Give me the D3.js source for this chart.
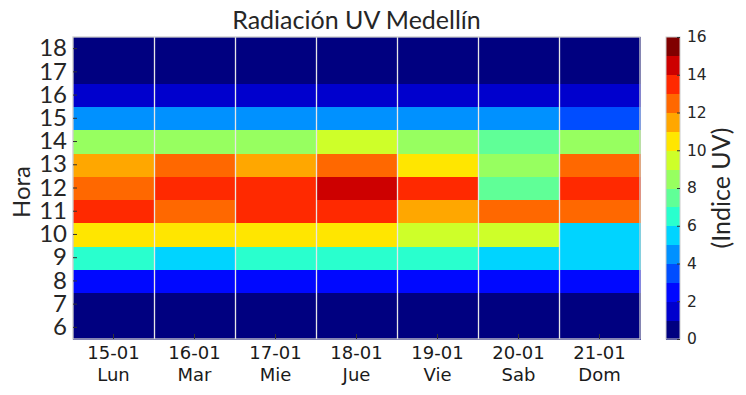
<!DOCTYPE html>
<html><head><meta charset="utf-8">
<script src="https://cdn.jsdelivr.net/npm/d3@7/dist/d3.min.js"></script>
<style>body{margin:0;background:#fff}</style>
</head><body>
<svg id="chart" width="746" height="395"></svg>
<script>
// ---- data ----
const days = ["15-01","16-01","17-01","18-01","19-01","20-01","21-01"];
const weekdays = ["Lun","Mar","Mie","Jue","Vie","Sab","Dom"];
const hours = [6,7,8,9,10,11,12,13,14,15,16,17,18];
// UV index per hour (rows, 6..18), columns Lun..Dom
const uvIndex = [
  [0.3,0.3,0.3,0.3,0.3,0.3,0.3],        // 6
  [0.4,0.4,0.4,0.4,0.4,0.4,0.4],        // 7
  [2.5,2.5,2.5,2.5,2.5,2.5,2.5],        // 8
  [6.5,5.5,6.5,6.5,6.5,5.5,5.5],        // 9
  [10.5,10.5,10.5,10.5,9.5,9.5,5.5],    // 10
  [13.5,12.5,13.5,13.5,11.5,12.5,12.5], // 11
  [12.5,13.5,13.5,14.5,13.5,7.5,13.5],  // 12
  [11.5,12.5,11.5,12.5,10.5,8.5,12.5],  // 13
  [8.5,8.5,8.5,9.5,8.5,7.5,8.5],        // 14
  [4.5,4.5,4.5,4.5,4.5,4.5,3.5],        // 15
  [1.5,1.5,1.5,1.5,1.5,1.5,1.5],        // 16
  [0.4,0.4,0.4,0.4,0.4,0.4,0.4],        // 17
  [0.2,0.2,0.2,0.2,0.2,0.2,0.2]         // 18
];
const cbTicks = [0,2,4,6,8,10,12,14,16];
const nLevels = 16;

// ---- jet colormap ----
function seg(pts, x){
  for(let i=1;i<pts.length;i++){
    if(x<=pts[i][0]){const [x0,y0]=pts[i-1],[x1,y1]=pts[i];return y0+(y1-y0)*(x-x0)/(x1-x0);}
  }
  return pts[pts.length-1][1];
}
function jet(t){
  const r=seg([[0,0],[0.35,0],[0.66,1],[0.89,1],[1,0.5]],t);
  const g=seg([[0,0],[0.125,0],[0.375,1],[0.64,1],[0.91,0],[1,0]],t);
  const b=seg([[0,0.5],[0.11,1],[0.34,1],[0.65,0],[1,0]],t);
  return d3.rgb(Math.round(r*255),Math.round(g*255),Math.round(b*255)).formatHex();
}
const levelColors = d3.range(nLevels).map(i=>jet(i/(nLevels-1)));
const color = d3.scaleQuantize().domain([0,16]).range(levelColors);

// ---- layout ----
const svg = d3.select("#chart");
const L=73, R=640, T=37, B=339;
const x = d3.scaleBand().domain(days).range([L,R]);
const y = d3.scaleBand().domain(hours.slice().reverse()).range([T,B]);

const cells=[];
hours.forEach((h,i)=>days.forEach((d,j)=>cells.push({h,d,v:uvIndex[i][j]})));
svg.append("g").selectAll("rect").data(cells).join("rect")
  .attr("x",c=>x(c.d)).attr("y",c=>y(c.h))
  .attr("width",x.bandwidth()+0.5).attr("height",y.bandwidth()+0.5)
  .attr("fill",c=>color(c.v)).attr("shape-rendering","crispEdges");

// vertical grid lines at day boundaries
svg.append("g").selectAll("line").data(days.slice(1)).join("line")
  .attr("x1",d=>Math.round(x(d))+0.5).attr("x2",d=>Math.round(x(d))+0.5)
  .attr("y1",T).attr("y2",B).attr("stroke","#e6e6e6").attr("stroke-width",1.3);

// frame
svg.append("rect").attr("x",L).attr("y",T).attr("width",R-L).attr("height",B-T)
  .attr("fill","none").attr("stroke","#cccccc").attr("stroke-width",1.3);

// y axis
const yAxis = svg.append("g").attr("transform",`translate(${L},0)`)
  .call(d3.axisLeft(y).tickSize(-4).tickPadding(6));
yAxis.select(".domain").remove();
yAxis.selectAll("line").attr("stroke","#333").attr("stroke-width",1);
yAxis.selectAll("text").attr("font-family","Lato").attr("font-size",24).attr("fill","#262626");

// x axis
const xAxis = svg.append("g").attr("transform",`translate(0,${B})`)
  .call(d3.axisBottom(x).tickSize(-5).tickFormat(""));
xAxis.select(".domain").remove();
xAxis.selectAll("line").attr("stroke","#333").attr("stroke-width",1);
xAxis.selectAll(".tick").each(function(d,i){
  const t=d3.select(this).append("text").attr("fill","#1a1a1a")
    .attr("font-family","DejaVu Sans").attr("font-size",18).attr("text-anchor","middle");
  t.append("tspan").attr("x",0).attr("y",20).text(d);
  t.append("tspan").attr("x",0).attr("y",42).text(weekdays[i]);
});

// title and axis label
svg.append("text").attr("x",(L+R)/2).attr("y",29).attr("text-anchor","middle")
  .attr("font-family","Lato").attr("font-size",25).attr("fill","#262626").text("Radiación UV Medellín");
svg.append("text").attr("transform",`translate(30,${(T+B)/2+4}) rotate(-90)`).attr("text-anchor","middle")
  .attr("font-family","Lato").attr("font-size",24).attr("fill","#262626").text("Hora");

// colorbar
const cbX=666, cbW=14;
const cy = d3.scaleLinear().domain([0,16]).range([B,T]);
svg.append("g").selectAll("rect").data(d3.range(nLevels)).join("rect")
  .attr("x",cbX).attr("y",i=>cy(i+1)).attr("width",cbW).attr("height",i=>cy(i)-cy(i+1)+0.5)
  .attr("fill",i=>levelColors[i]).attr("shape-rendering","crispEdges");
svg.append("rect").attr("x",cbX).attr("y",T).attr("width",cbW).attr("height",B-T)
  .attr("fill","none").attr("stroke","#cccccc").attr("stroke-width",1);
const cAxis = svg.append("g").attr("transform",`translate(${cbX+cbW},0)`)
  .call(d3.axisRight(cy).tickValues(cbTicks).tickSize(-3).tickPadding(7));
cAxis.select(".domain").remove();
cAxis.selectAll("line").attr("stroke","#333");
cAxis.selectAll("text").attr("font-family","DejaVu Sans").attr("font-size",15.5).attr("fill","#262626");
svg.append("text").attr("transform",`translate(730,${(T+B)/2}) rotate(-90)`).attr("text-anchor","middle")
  .attr("font-family","Lato").attr("font-size",25).attr("fill","#262626").text("(Indice UV)");
</script>
</body></html>
